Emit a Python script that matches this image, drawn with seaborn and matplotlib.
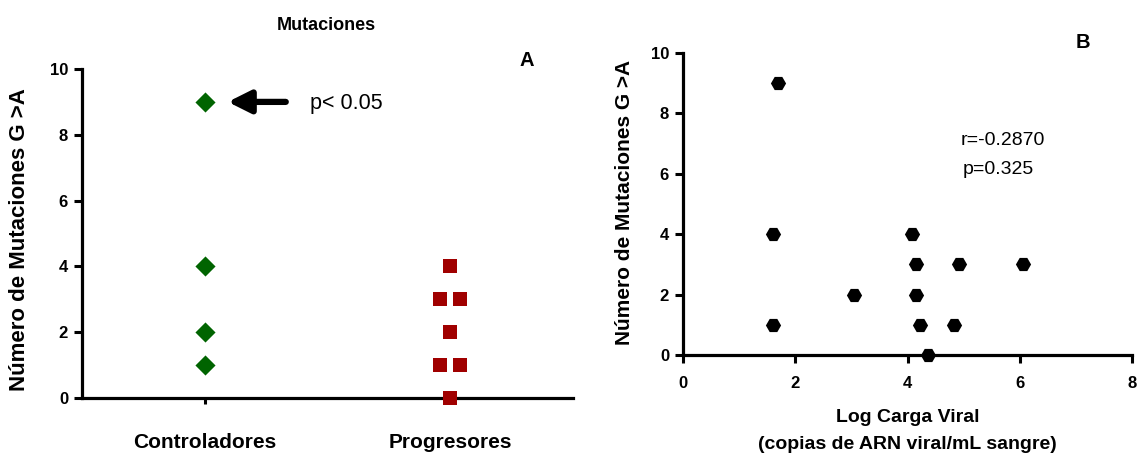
import numpy as np
import pandas as pd
import seaborn as sns
import matplotlib
matplotlib.use("Agg")
import matplotlib.pyplot as plt

# Panel A data
grupos = ["Controladores", "Progresores"]
controladores = [9, 4, 2, 1]
progresores = [4, 3, 3, 2, 1, 1, 0]

# Panel B data
log_carga = [1.60, 1.60, 1.69, 3.05, 4.08, 4.16, 4.15, 4.23, 4.37, 4.91, 4.83, 6.06]
mutaciones = [4, 1, 9, 2, 4, 3, 2, 1, 0, 3, 1, 3]

y_ticks = [0, 2, 4, 6, 8, 10]
x_ticks_b = [0, 2, 4, 6, 8]

sns.set_style("ticks")
plt.rcParams["font.family"] = ["Liberation Sans", "DejaVu Sans"]
plt.rcParams["text.color"] = "black"
plt.rcParams["axes.labelcolor"] = "black"

W, H = 1144, 457
fig = plt.figure(figsize=(W / 100, H / 100), dpi=100)

def fbox(x0, y0, x1, y1):
    # pixel box (top-left origin) -> figure fraction rect
    return [x0 / W, 1 - y1 / H, (x1 - x0) / W, (y1 - y0) / H]

def spread(values, center, step=0.082):
    # side-by-side placement for repeated values, like the original column plot
    vals = pd.Series(values)
    counts = vals.value_counts()
    seen = {}
    xs = []
    for v in vals:
        n = counts[v]
        k = seen.get(v, 0)
        seen[v] = k + 1
        xs.append(center + (k - (n - 1) / 2) * step)
    return xs

ax_a = fig.add_axes(fbox(82, 69, 573, 398))
ax_b = fig.add_axes(fbox(683, 53, 1132, 355))

green = "#006400"
red = "#a00000"

df_c = pd.DataFrame({"x": spread(controladores, 0), "mutaciones": controladores})
df_p = pd.DataFrame({"x": spread(progresores, 1), "mutaciones": progresores})

sns.scatterplot(data=df_c, x="x", y="mutaciones", marker="D", color=green, s=105,
                linewidth=0, clip_on=False, zorder=5, ax=ax_a)
sns.scatterplot(data=df_p, x="x", y="mutaciones", marker="s", color=red, s=110,
                linewidth=0, clip_on=False, zorder=5, ax=ax_a)

ax_a.set_xlim(-0.5, 1.5)
ax_a.set_ylim(0, 10)
ax_a.set_xticks([0, 1], grupos)
ax_a.set_yticks(y_ticks)
ax_a.set_xlabel("")
ax_a.set_ylabel("")

df_b = pd.DataFrame({"log_carga": log_carga, "mutaciones": mutaciones})
sns.scatterplot(data=df_b, x="log_carga", y="mutaciones", marker="H", s=120,
                color="black", edgecolor="black", linewidth=0, clip_on=False,
                zorder=5, ax=ax_b)
ax_b.set_xlim(0, 8)
ax_b.set_ylim(0, 10)
ax_b.set_xticks(x_ticks_b)
ax_b.set_yticks(y_ticks)
ax_b.set_ylabel("")
ax_b.set_xlabel("Log Carga Viral\n(copias de ARN viral/mL sangre)",
                fontsize=14, fontweight="bold", linespacing=1.75, labelpad=13)

for ax in (ax_a, ax_b):
    sns.despine(ax=ax)
    for s in ("left", "bottom"):
        ax.spines[s].set_linewidth(2.3)
        ax.spines[s].set_color("black")
    ax.tick_params(axis="y", length=6, width=2.2, pad=4, labelsize=12, colors="black")
    for lab in ax.get_yticklabels():
        lab.set_fontweight("bold")

ax_a.tick_params(axis="x", length=4.5, width=2.2, pad=21, labelsize=15, colors="black")
for lab in ax_a.get_xticklabels():
    lab.set_fontweight("bold")
ax_b.tick_params(axis="x", length=6, width=2.2, pad=9, labelsize=12, colors="black")
for lab in ax_b.get_xticklabels():
    lab.set_fontweight("bold")

# annotations panel A
ax_a.annotate("", xy=(0.094, 9), xytext=(0.33, 9),
              arrowprops=dict(arrowstyle="-|>", lw=4.5, color="black",
                              mutation_scale=34, shrinkA=0, shrinkB=0))
ax_a.text(0.43, 8.95, "p< 0.05", fontsize=15.5, va="center", ha="left")

# annotations panel B
ax_b.text(5.69, 7.1, "r=-0.2870", fontsize=14, va="center", ha="center")
ax_b.text(5.62, 6.15, "p=0.325", fontsize=14, va="center", ha="center")

fig.text(326 / W, 1 - 25 / H, "Mutaciones", fontsize=13, fontweight="bold",
         ha="center", va="center")
fig.text(527 / W, 1 - 60 / H, "A", fontsize=14.5, fontweight="bold", ha="center", va="center")
fig.text(1083 / W, 1 - 43 / H, "B", fontsize=14.5, fontweight="bold", ha="center", va="center")

fig.text(20 / W, 1 - 240 / H, "Número de Mutaciones G >A", rotation=90, fontsize=16,
         fontweight="bold", ha="center", va="center")
fig.text(625 / W, 1 - 202 / H, "Número de Mutaciones G >A", rotation=90, fontsize=15,
         fontweight="bold", ha="center", va="center")

fig.savefig("out.png", dpi=100)
